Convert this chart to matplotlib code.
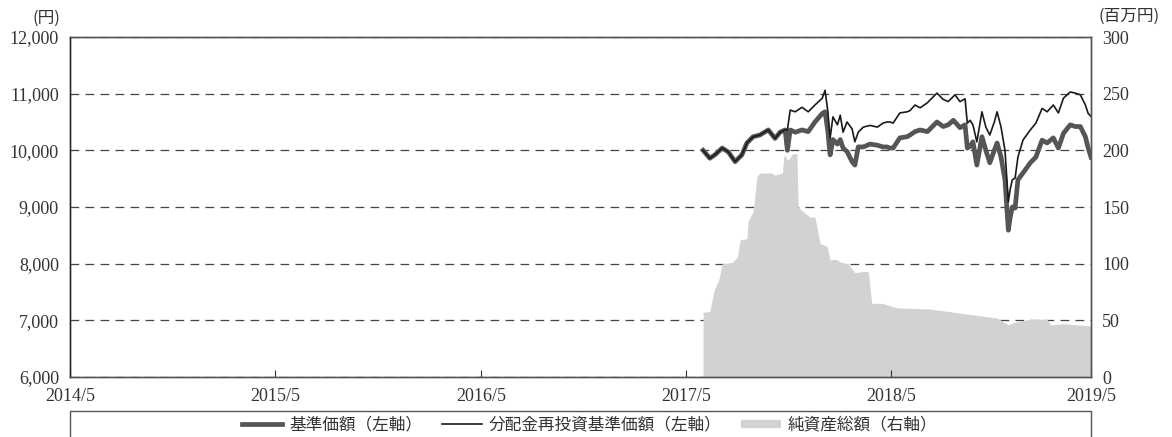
import pandas as pd
import matplotlib
matplotlib.use('Agg')
import matplotlib.pyplot as plt
from matplotlib.lines import Line2D
from matplotlib.patches import Rectangle
from matplotlib.ticker import FuncFormatter

plt.rcParams['font.family'] = ['Noto Sans CJK JP', 'DejaVu Sans']

# 基準価額 / 分配金再投資基準価額 (円)
nav_dates = [
    '2017-05-31', '2017-06-12', '2017-06-21', '2017-07-04', '2017-07-15', '2017-07-27',
    '2017-08-08', '2017-08-17', '2017-08-28', '2017-09-09', '2017-09-24', '2017-10-06',
    '2017-10-15', '2017-10-24', '2017-10-28', '2017-11-02', '2017-11-11', '2017-11-23',
    '2017-12-04', '2017-12-16', '2017-12-29', '2018-01-03', '2018-01-08', '2018-01-12',
    '2018-01-17', '2018-01-25', '2018-01-30', '2018-02-04', '2018-02-11', '2018-02-20',
    '2018-02-25', '2018-03-03', '2018-03-12', '2018-03-24', '2018-04-06', '2018-04-16',
    '2018-04-23', '2018-04-29', '2018-05-04', '2018-05-16', '2018-05-29', '2018-06-03',
    '2018-06-12', '2018-06-21', '2018-07-04', '2018-07-21', '2018-08-01', '2018-08-10',
    '2018-08-19', '2018-08-22', '2018-08-31', '2018-09-09', '2018-09-13', '2018-09-18',
    '2018-09-23', '2018-09-30', '2018-10-09', '2018-10-16', '2018-10-23', '2018-10-31',
    '2018-11-05', '2018-11-12', '2018-11-19', '2018-11-25', '2018-11-28', '2018-12-02',
    '2018-12-07', '2018-12-12', '2018-12-21', '2019-01-03', '2019-01-13', '2019-01-24',
    '2019-02-02', '2019-02-13', '2019-02-22', '2019-03-03', '2019-03-15', '2019-03-24',
    '2019-04-02', '2019-04-11', '2019-04-16', '2019-04-21',
]
nav = [
    10000, 9860, 9920, 10040, 9970, 9800,
    9920, 10130, 10240, 10270, 10360, 10210,
    10320, 10360, 10000, 10360, 10320, 10360,
    10330, 10500, 10650, 10680, 10330, 9920,
    10190, 10110, 10190, 10040, 9980, 9800,
    9740, 10060, 10060, 10110, 10090, 10060,
    10060, 10040, 10040, 10220, 10240, 10270,
    10330, 10360, 10330, 10500, 10420, 10450,
    10530, 10500, 10400, 10450, 10040, 10070,
    10150, 9740, 10240, 10000, 9780, 10000,
    10130, 9880, 9480, 8590, 8800, 9000,
    8980, 9480, 9600, 9780, 9880, 10180,
    10130, 10220, 10040, 10300, 10450, 10420,
    10420, 10240, 10040, 9880,
]
nav_reinvest = [
    10000, 9860, 9920, 10040, 9970, 9800,
    9920, 10130, 10240, 10270, 10360, 10210,
    10320, 10360, 10360, 10710, 10680, 10760,
    10680, 10800, 10920, 11060, 10680, 10220,
    10590, 10450, 10620, 10320, 10500, 10380,
    10150, 10320, 10410, 10440, 10410, 10480,
    10500, 10500, 10480, 10660, 10680, 10700,
    10800, 10750, 10840, 11010, 10900, 10860,
    10950, 10980, 10860, 10910, 10480, 10530,
    10450, 10150, 10680, 10410, 10270, 10500,
    10680, 10410, 10000, 9090, 9300, 9480,
    9510, 9880, 10180, 10360, 10480, 10740,
    10680, 10800, 10660, 10920, 11030, 11010,
    10980, 10800, 10650, 10600,
]

# 純資産総額 (百万円)
asset_dates = [
    '2017-05-31', '2017-06-12', '2017-06-20', '2017-06-28', '2017-07-04', '2017-07-22',
    '2017-07-31', '2017-08-05', '2017-08-17', '2017-08-19', '2017-08-28', '2017-09-04',
    '2017-09-09', '2017-10-01', '2017-10-06', '2017-10-19', '2017-10-22', '2017-10-29',
    '2017-11-06', '2017-11-14', '2017-11-16', '2017-11-25', '2017-12-07', '2017-12-16',
    '2017-12-25', '2018-01-07', '2018-01-12', '2018-01-21', '2018-02-02', '2018-02-13',
    '2018-02-25', '2018-03-10', '2018-03-21', '2018-03-27', '2018-04-14', '2018-05-11',
    '2018-07-09', '2018-09-06', '2018-11-05', '2018-11-25', '2018-12-04', '2019-01-03',
    '2019-02-02', '2019-02-08', '2019-03-03', '2019-04-21',
]
assets = [
    57, 58, 77, 86, 100, 101,
    106, 121, 122, 137, 146, 177,
    180, 180, 178, 180, 196, 191,
    197, 197, 150, 146, 141, 141,
    118, 115, 103, 104, 101, 100,
    92, 93, 93, 65, 65, 61,
    60, 56, 52, 46, 48, 51,
    51, 46, 47, 45,
]

tick_dates = ['2014-05-01', '2015-05-01', '2016-05-01', '2017-05-01', '2018-05-01', '2019-04-21']
tick_labels = ['2014/5', '2015/5', '2016/5', '2017/5', '2018/5', '2019/5']

nav_dates = pd.to_datetime(nav_dates)
asset_dates = pd.to_datetime(asset_dates)
tick_dates = pd.to_datetime(tick_dates)

GRAY_LINE = '#555555'
AREA = '#d1d2d4'
SPINE = '#555555'
num_font = dict(family='Liberation Serif', size=13)

fig = plt.figure(figsize=(11.72, 4.37), dpi=100)
ax1 = fig.add_axes([70 / 1172, 60 / 437, 1021 / 1172, 340 / 437])
ax2 = ax1.twinx()

# net assets on the right axis, drawn under the price lines
ax2.fill_between(asset_dates, assets, 0, color=AREA, linewidth=0, zorder=1)
ax2.set_ylim(0, 300)
ax2.set_yticks(range(0, 301, 50))
ax2.grid(axis='y', linestyle=(0, (7, 5)), color='#444444', linewidth=0.9)
ax2.set_axisbelow(True)
ax2.tick_params(axis='y', length=0, pad=8, colors='#333333')
for lab in ax2.get_yticklabels():
    lab.set_fontproperties(num_font)

ax1.set_zorder(ax2.get_zorder() + 1)
ax1.patch.set_visible(False)
ax1.plot(nav_dates, nav, color=GRAY_LINE, linewidth=3.4, solid_joinstyle='round')
ax1.plot(nav_dates, nav_reinvest, color='#1a1a1a', linewidth=1.2)

ax1.set_ylim(6000, 12000)
ax1.set_yticks(range(6000, 12001, 1000))
ax1.yaxis.set_major_formatter(FuncFormatter(lambda v, p: f'{int(v):,}'))
ax1.tick_params(axis='y', length=0, pad=8, colors='#333333')
ax1.set_xlim(pd.Timestamp('2014-05-01'), pd.Timestamp('2019-04-21'))
ax1.set_xticks(tick_dates)
ax1.set_xticklabels(tick_labels)
ax1.tick_params(axis='x', direction='in', length=5, width=0.8, color='#333333', pad=8, colors='#333333')
for lab in ax1.get_yticklabels() + ax1.get_xticklabels():
    lab.set_fontproperties(num_font)

for ax in (ax1, ax2):
    for side, sp in ax.spines.items():
        sp.set_color(SPINE)
        sp.set_linewidth(1.0)
ax1.spines['left'].set_color('#222222')

fig.text(60 / 1172, 1 - 18 / 437, '(円)', ha='right', va='center', fontsize=12, color='#333333')
fig.text(1099 / 1172, 1 - 16 / 437, '(百万円)', ha='left', va='center', fontsize=12, color='#333333')

# legend box (open at the bottom edge of the image)
fig.patches.append(Rectangle((70 / 1172, -0.1), 1021 / 1172, 0.1 + 26 / 437,
                             transform=fig.transFigure, fill=False,
                             edgecolor=SPINE, linewidth=1.0))
handles = [
    Line2D([], [], color=GRAY_LINE, linewidth=3.4),
    Line2D([], [], color='#1a1a1a', linewidth=1.2),
    Line2D([], [], color=AREA, linewidth=6, solid_capstyle='butt'),
]
labels = ['基準価額（左軸）', '分配金再投資基準価額（左軸）', '純資産総額（右軸）']
fig.legend(handles, labels, loc='center', bbox_to_anchor=(590 / 1172, 1 - 425 / 437),
           ncol=3, frameon=False, fontsize=12, handlelength=2.4, handletextpad=0.4,
           columnspacing=1.2, labelcolor='#333333')

fig.savefig('out.png', dpi=100)
